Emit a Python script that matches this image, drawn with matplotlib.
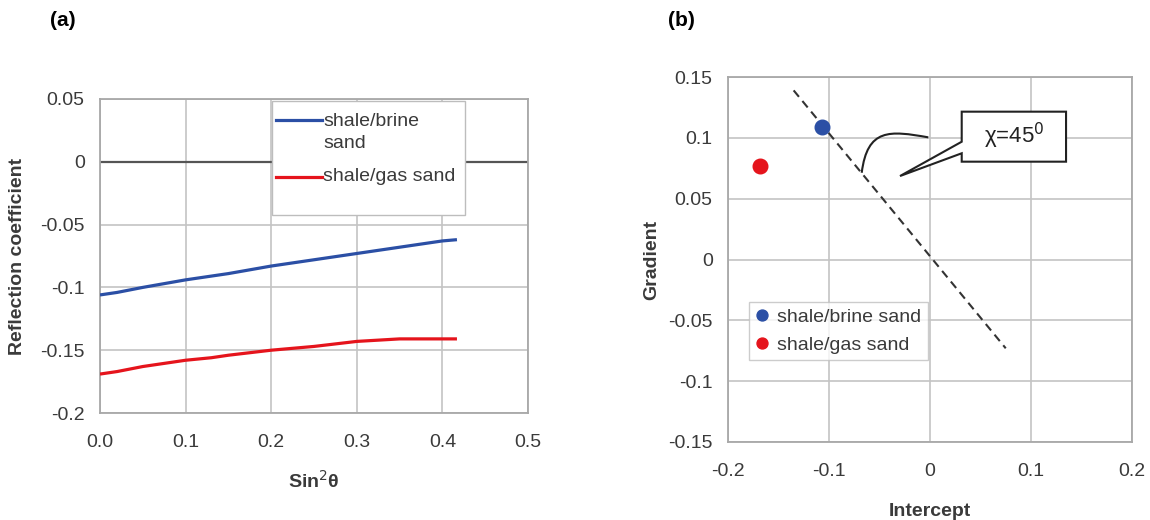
import matplotlib
matplotlib.use("Agg")
import matplotlib.pyplot as plt
from matplotlib.path import Path
from matplotlib.patches import PathPatch, Polygon, Rectangle
from matplotlib.lines import Line2D

plt.rcParams['font.family'] = ['Liberation Sans', 'DejaVu Sans']

# ---- data (a) ----
sin2 = [0.0, 0.02, 0.05, 0.1, 0.13, 0.15, 0.2, 0.25, 0.3, 0.35, 0.4, 0.417]
brine_R = [-0.106, -0.104, -0.100, -0.094, -0.091, -0.089, -0.083, -0.078, -0.073, -0.068, -0.063, -0.062]
gas_R = [-0.169, -0.167, -0.163, -0.158, -0.156, -0.154, -0.150, -0.147, -0.143, -0.141, -0.141, -0.141]
series_a = ["shale/brine\nsand", "shale/gas sand"]
xticks_a = [0.0, 0.1, 0.2, 0.3, 0.4, 0.5]
xticklabels_a = ["0.0", "0.1", "0.2", "0.3", "0.4", "0.5"]
yticks_a = [0.05, 0, -0.05, -0.1, -0.15, -0.2]
yticklabels_a = ["0.05", "0", "-0.05", "-0.1", "-0.15", "-0.2"]

# ---- data (b) ----
intercepts = [-0.107, -0.168]
gradients = [0.109, 0.077]
series_names = ["shale/brine sand", "shale/gas sand"]
chi_line_x = [-0.135, 0.075]
chi_line_y = [0.139, -0.073]
xticks_b = [-0.2, -0.1, 0, 0.1, 0.2]
xticklabels_b = ["-0.2", "-0.1", "0", "0.1", "0.2"]
yticks_b = [0.15, 0.1, 0.05, 0, -0.05, -0.1, -0.15]
yticklabels_b = ["0.15", "0.1", "0.05", "0", "-0.05", "-0.1", "-0.15"]

BLUE = "#2b4fa5"
RED = "#e5141c"
GRID = "#c4c4c4"
TICKC = "#3a3a3a"
FS = 14

fig = plt.figure(figsize=(11.5, 5.2), dpi=100)

# ----- panel (a) -----
axa = fig.add_axes([100/1150, 1-413/520, 428/1150, 314/520])
la, = axa.plot(sin2, brine_R, color=BLUE, lw=2.3, solid_capstyle='butt', zorder=3)
lb, = axa.plot(sin2, gas_R, color=RED, lw=2.3, solid_capstyle='butt', zorder=3)
axa.axhline(0, color="#555555", lw=1.6, zorder=1)
axa.set_xlim(0, 0.5)
axa.set_ylim(-0.2, 0.05)
axa.set_xticks(xticks_a)
axa.set_xticklabels(xticklabels_a)
axa.set_yticks(yticks_a)
axa.set_yticklabels(yticklabels_a)
axa.grid(True, color=GRID, lw=1.2, zorder=0)
axa.set_axisbelow(True)
for s in axa.spines.values():
    s.set_color("#a8a8a8")
    s.set_linewidth(1.3)
axa.tick_params(axis='x', length=0, labelsize=FS, labelcolor=TICKC, pad=15)
axa.tick_params(axis='y', length=0, labelsize=FS, labelcolor=TICKC, pad=11)
axa.set_xlabel(r"Sin$^{2}$θ", fontsize=FS, fontweight='bold', color=TICKC, labelpad=14)
axa.set_ylabel("Reflection coefficient", fontsize=FS, fontweight='bold', color=TICKC, labelpad=10)

# manual legend for (a) so the handle aligns with the first text line
axa.add_patch(Rectangle((0.401, 0.631), 0.451, 0.363, transform=axa.transAxes,
                        fc='white', ec='#bdbdbd', lw=1.0, zorder=5))
axa.add_line(Line2D([0.411, 0.518], [0.933, 0.933], transform=axa.transAxes,
                    color=la.get_color(), lw=2.3, zorder=6))
axa.add_line(Line2D([0.411, 0.518], [0.753, 0.753], transform=axa.transAxes,
                    color=lb.get_color(), lw=2.3, zorder=6))
axa.text(0.522, 0.894, series_a[0], transform=axa.transAxes, fontsize=FS, color=TICKC,
         va='center', ha='left', linespacing=1.4, zorder=7)
axa.text(0.522, 0.753, series_a[1], transform=axa.transAxes, fontsize=FS, color=TICKC,
         va='center', ha='left', zorder=7)
fig.text(50/1150, 1-21/520, "(a)", fontsize=15, fontweight='bold', va='center', ha='left')

# ----- panel (b) -----
axb = fig.add_axes([728/1150, 1-442/520, 404/1150, 365/520])
axb.set_xlim(-0.2, 0.2)
axb.set_ylim(-0.15, 0.15)
axb.set_xticks(xticks_b)
axb.set_xticklabels(xticklabels_b)
axb.set_yticks(yticks_b)
axb.set_yticklabels(yticklabels_b)
axb.grid(True, color=GRID, lw=1.2, zorder=0)
axb.set_axisbelow(True)
for s in axb.spines.values():
    s.set_color("#a8a8a8")
    s.set_linewidth(1.3)
axb.tick_params(axis='x', length=0, labelsize=FS, labelcolor=TICKC, pad=15)
axb.tick_params(axis='y', length=0, labelsize=FS, labelcolor=TICKC, pad=11)
axb.set_xlabel("Intercept", fontsize=FS, fontweight='bold', color=TICKC, labelpad=17)
axb.set_ylabel("Gradient", fontsize=FS, fontweight='bold', color=TICKC, labelpad=6)

axb.plot(chi_line_x, chi_line_y, color="#333333", lw=1.5, ls=(0, (4, 2.6)), zorder=2)
for xi, yi, c, n in zip(intercepts, gradients, [BLUE, RED], series_names):
    axb.plot([xi], [yi], 'o', color=c, ms=10.5, label=n, zorder=3, ls='none')

# curved angle arc
verts = [(-0.0676, 0.0713), (-0.062, 0.108), (-0.040, 0.106), (-0.0017, 0.1004)]
codes = [Path.MOVETO, Path.CURVE4, Path.CURVE4, Path.CURVE4]
axb.add_patch(PathPatch(Path(verts, codes), fc='none', ec='#222222', lw=1.5, zorder=4))

# callout box with pointer
bx0, bx1, by0, by1 = 0.0314, 0.1347, 0.0804, 0.1215
callout = [(bx0, by1), (bx1, by1), (bx1, by0), (bx0, by0), (bx0, 0.0873),
           (-0.0297, 0.0686), (bx0, 0.0968)]
axb.add_patch(Polygon(callout, closed=True, fc='white', ec='#222222', lw=1.5, zorder=5))
axb.text((bx0 + bx1) / 2, (by0 + by1) / 2 + 0.001, r"χ=45$^{0}$", fontsize=16, ha='center',
         va='center', color="#222222", zorder=6)

legb = axb.legend(loc='upper left', bbox_to_anchor=(0.053, 0.384), fontsize=FS, frameon=True,
                  fancybox=False, edgecolor="#c0c0c0", handlelength=0.6, handletextpad=0.45,
                  borderpad=0.35, labelspacing=0.5, borderaxespad=0, markerscale=0.75)
legb.get_frame().set_linewidth(1.0)
for t in legb.get_texts():
    t.set_color(TICKC)
fig.text(668/1150, 1-21/520, "(b)", fontsize=15, fontweight='bold', va='center', ha='left')

fig.savefig("out.png", dpi=100)
